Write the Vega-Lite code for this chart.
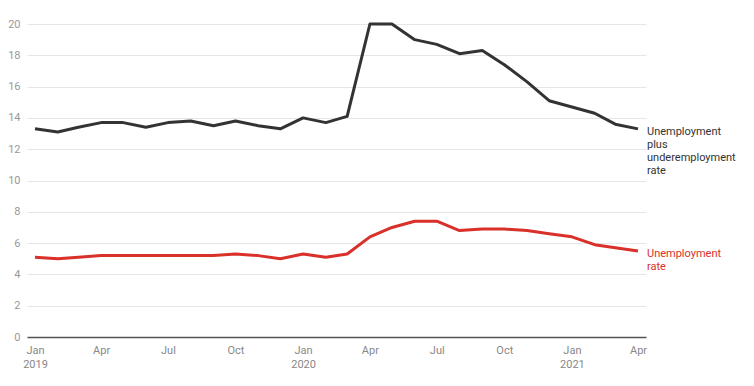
{
  "$schema": "https://vega.github.io/schema/vega-lite/v6.json",
  "width": 619,
  "height": 313,
  "autosize": {"type": "none"},
  "padding": {"left": 27, "top": 24, "right": 108, "bottom": 49},
  "config": {"view": {"stroke": null}, "font": "Roboto"},
  "datasets": {
    "rates": [
      {"date": "2019-01-01", "series": "under", "value": 13.3},
      {"date": "2019-02-01", "series": "under", "value": 13.1},
      {"date": "2019-03-01", "series": "under", "value": 13.4},
      {"date": "2019-04-01", "series": "under", "value": 13.7},
      {"date": "2019-05-01", "series": "under", "value": 13.7},
      {"date": "2019-06-01", "series": "under", "value": 13.4},
      {"date": "2019-07-01", "series": "under", "value": 13.7},
      {"date": "2019-08-01", "series": "under", "value": 13.8},
      {"date": "2019-09-01", "series": "under", "value": 13.5},
      {"date": "2019-10-01", "series": "under", "value": 13.8},
      {"date": "2019-11-01", "series": "under", "value": 13.5},
      {"date": "2019-12-01", "series": "under", "value": 13.3},
      {"date": "2020-01-01", "series": "under", "value": 14.0},
      {"date": "2020-02-01", "series": "under", "value": 13.7},
      {"date": "2020-03-01", "series": "under", "value": 14.1},
      {"date": "2020-04-01", "series": "under", "value": 20.0},
      {"date": "2020-05-01", "series": "under", "value": 20.0},
      {"date": "2020-06-01", "series": "under", "value": 19.0},
      {"date": "2020-07-01", "series": "under", "value": 18.7},
      {"date": "2020-08-01", "series": "under", "value": 18.1},
      {"date": "2020-09-01", "series": "under", "value": 18.3},
      {"date": "2020-10-01", "series": "under", "value": 17.4},
      {"date": "2020-11-01", "series": "under", "value": 16.3},
      {"date": "2020-12-01", "series": "under", "value": 15.1},
      {"date": "2021-01-01", "series": "under", "value": 14.7},
      {"date": "2021-02-01", "series": "under", "value": 14.3},
      {"date": "2021-03-01", "series": "under", "value": 13.6},
      {"date": "2021-04-01", "series": "under", "value": 13.3},
      {"date": "2019-01-01", "series": "unemp", "value": 5.1},
      {"date": "2019-02-01", "series": "unemp", "value": 5.0},
      {"date": "2019-03-01", "series": "unemp", "value": 5.1},
      {"date": "2019-04-01", "series": "unemp", "value": 5.2},
      {"date": "2019-05-01", "series": "unemp", "value": 5.2},
      {"date": "2019-06-01", "series": "unemp", "value": 5.2},
      {"date": "2019-07-01", "series": "unemp", "value": 5.2},
      {"date": "2019-08-01", "series": "unemp", "value": 5.2},
      {"date": "2019-09-01", "series": "unemp", "value": 5.2},
      {"date": "2019-10-01", "series": "unemp", "value": 5.3},
      {"date": "2019-11-01", "series": "unemp", "value": 5.2},
      {"date": "2019-12-01", "series": "unemp", "value": 5.0},
      {"date": "2020-01-01", "series": "unemp", "value": 5.3},
      {"date": "2020-02-01", "series": "unemp", "value": 5.1},
      {"date": "2020-03-01", "series": "unemp", "value": 5.3},
      {"date": "2020-04-01", "series": "unemp", "value": 6.4},
      {"date": "2020-05-01", "series": "unemp", "value": 7.0},
      {"date": "2020-06-01", "series": "unemp", "value": 7.4},
      {"date": "2020-07-01", "series": "unemp", "value": 7.4},
      {"date": "2020-08-01", "series": "unemp", "value": 6.8},
      {"date": "2020-09-01", "series": "unemp", "value": 6.9},
      {"date": "2020-10-01", "series": "unemp", "value": 6.9},
      {"date": "2020-11-01", "series": "unemp", "value": 6.8},
      {"date": "2020-12-01", "series": "unemp", "value": 6.6},
      {"date": "2021-01-01", "series": "unemp", "value": 6.4},
      {"date": "2021-02-01", "series": "unemp", "value": 5.9},
      {"date": "2021-03-01", "series": "unemp", "value": 5.7},
      {"date": "2021-04-01", "series": "unemp", "value": 5.5}
    ],
    "labels": [
      {"date": "2021-04-01", "series": "under", "value": 13.3, "label": "Unemployment|plus|underemployment|rate"},
      {"date": "2021-04-01", "series": "unemp", "value": 5.5, "label": "Unemployment|rate"}
    ]
  },
  "encoding": {
    "x": {
      "field": "date",
      "type": "temporal",
      "scale": {"type": "utc", "padding": 8, "nice": false},
      "axis": {
        "title": null,
        "grid": false,
        "ticks": false,
        "domainColor": "#555555",
        "domainWidth": 1.5,
        "labelColor": "#888888",
        "labelFontSize": 11,
        "labelPadding": 7,
        "labelFlush": false,
        "labelOverlap": false,
        "labelLineHeight": 14,
        "tickCount": {"interval": "month", "step": 3},
        "labelExpr": "utcFormat(datum.value, '%m') == '01' ? [utcFormat(datum.value, '%b'), utcFormat(datum.value, '%Y')] : utcFormat(datum.value, '%b')"
      }
    },
    "y": {
      "field": "value",
      "type": "quantitative",
      "scale": {"domain": [0, 20], "nice": false, "zero": true},
      "axis": {
        "title": null,
        "domain": false,
        "ticks": false,
        "values": [0, 2, 4, 6, 8, 10, 12, 14, 16, 18, 20],
        "gridColor": "#e6e6e6",
        "gridWidth": 1,
        "labelColor": "#999999",
        "labelFontSize": 11,
        "labelPadding": 7
      }
    },
    "color": {
      "field": "series",
      "type": "nominal",
      "scale": {"domain": ["under", "unemp"], "range": ["#333333", "#d9302a"]},
      "legend": null
    }
  },
  "layer": [
    {
      "data": {"name": "rates"},
      "mark": {"type": "line", "strokeWidth": 3, "strokeJoin": "round"}
    },
    {
      "data": {"name": "labels"},
      "mark": {"type": "text", "align": "left", "baseline": "top", "dx": 9, "dy": -3, "fontSize": 11, "lineHeight": 13, "lineBreak": "|"},
      "encoding": {"text": {"field": "label", "type": "nominal"}}
    }
  ]
}
